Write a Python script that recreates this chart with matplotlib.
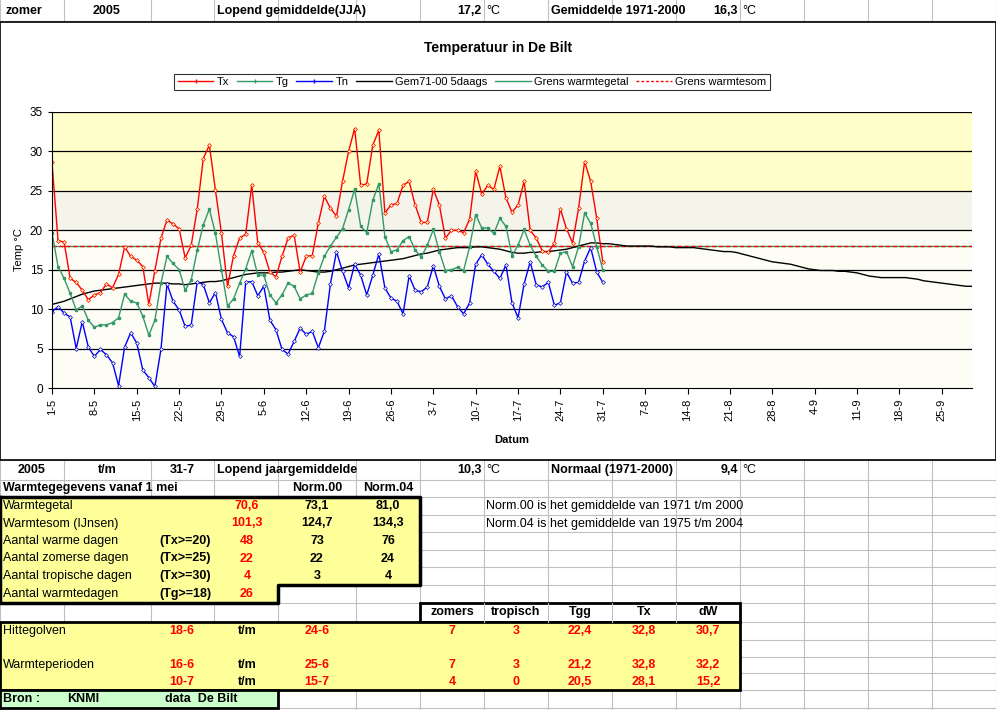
import matplotlib
matplotlib.use("Agg")
import matplotlib.pyplot as plt
from matplotlib.patches import Rectangle
from matplotlib.lines import Line2D
import numpy as np

plt.rcParams['font.family'] = ['Liberation Sans', 'DejaVu Sans']

tx = [28.6,18.7,18.5,13.9,13.4,12.4,11.2,11.8,12.1,13.2,12.7,14.4,17.9,16.7,16.2,15.4,10.6,14.9,19.0,21.3,20.8,20.2,16.5,18.1,22.7,29.1,30.8,25.1,19.6,12.9,16.8,19.0,
      19.5,25.7,18.4,17.2,14.7,14.1,16.7,19.0,19.4,14.7,16.7,16.8,20.9,24.3,22.8,21.8,26.2,30.0,32.9,25.7,25.9,30.8,32.7,22.2,23.2,23.4,25.7,26.2,23.2,21.0,21.0,
      25.2,23.2,19.0,20.0,20.0,19.7,21.4,27.5,24.6,25.7,25.2,28.1,24.1,22.3,23.2,26.2,20.0,19.0,17.4,17.2,18.4,22.7,20.2,18.4,22.8,28.7,26.2,21.5,16.0]
tg = [19.7,15.4,13.9,12.0,9.9,10.4,8.6,7.7,8.0,8.0,8.3,8.9,11.9,11.0,10.8,9.1,6.7,8.6,13.3,16.7,15.8,15.0,12.4,13.7,17.5,20.7,22.7,19.6,15.0,10.4,11.3,13.3,
      15.1,17.4,14.3,14.3,11.8,10.8,11.8,13.3,12.9,11.3,11.8,12.0,14.6,16.7,18.0,19.1,20.2,22.6,25.2,20.5,19.7,23.8,25.9,19.2,17.3,17.5,18.7,19.2,17.5,16.6,18.1,
      20.1,17.3,14.9,15.0,15.3,14.9,17.9,22.0,20.3,20.3,19.6,21.5,20.5,16.8,18.1,20.1,18.1,16.7,15.6,14.8,14.8,17.1,17.3,15.4,17.9,22.2,20.9,17.9,15.0]
tn = [9.7,10.3,9.5,9.0,5.0,8.4,5.2,4.0,4.9,4.2,3.2,0.3,5.2,7.0,5.7,2.3,1.3,0.2,4.9,13.2,11.0,9.9,7.8,8.0,13.5,13.1,10.8,12.1,8.7,7.0,6.5,4.0,
      13.4,13.5,11.7,12.9,8.6,7.4,4.9,4.3,5.9,7.6,6.8,7.2,5.1,7.2,13.2,17.3,14.8,12.7,15.7,14.3,11.8,14.3,17.0,12.7,11.4,11.0,9.4,14.2,12.4,12.2,12.8,
      15.5,12.9,11.3,11.7,10.3,9.4,10.8,15.7,16.9,15.7,14.8,13.9,15.6,10.8,8.9,13.2,16.0,13.1,12.8,13.4,10.5,10.8,14.7,13.3,13.4,16.1,17.8,14.7,13.4]
gem = [10.6,10.8,11.0,11.3,11.6,11.9,12.1,12.3,12.4,12.5,
       12.6,12.7,12.8,12.9,13.0,13.1,13.2,13.3,13.3,13.3,
       13.2,13.2,13.1,13.2,13.3,13.4,13.5,13.5,13.6,13.8,
       14.0,14.2,14.4,14.5,14.6,14.6,14.6,14.7,14.7,14.8,
       14.9,15.0,14.9,14.8,14.7,14.7,14.8,15.0,15.2,15.4,
       15.6,15.7,15.8,15.9,16.0,16.1,16.2,16.3,16.4,16.6,
       16.8,17.0,17.1,17.3,17.5,17.6,17.7,17.8,17.8,17.8,
       17.9,17.9,17.8,17.7,17.6,17.4,17.2,17.1,17.1,17.2,
       17.2,17.3,17.3,17.4,17.5,17.6,17.8,18.0,18.2,18.4,
       18.4,18.3,18.3,18.2,18.1,18.0,18.0,18.0,18.0,18.0,
       17.9,17.9,17.9,17.8,17.8,17.8,17.8,17.7,17.6,17.5,
       17.4,17.3,17.3,17.2,17.0,16.8,16.6,16.4,16.2,16.0,
       15.9,15.8,15.7,15.5,15.3,15.1,15.0,14.9,14.9,14.9,
       14.8,14.8,14.7,14.6,14.4,14.2,14.1,14.0,14.0,14.0,
       14.0,14.0,13.9,13.8,13.6,13.5,13.4,13.3,13.2,13.1,
       13.0,12.9,12.9]
grens = 18
xtick_labels = ['1-5','8-5','15-5','22-5','29-5','5-6','12-6','19-6','26-6','3-7','10-7','17-7',
                '24-7','31-7','7-8','14-8','21-8','28-8','4-9','11-9','18-9','25-9']

W, H = 996, 710
fig = plt.figure(figsize=(W/100, H/100), dpi=100)
bg = fig.add_axes([0, 0, 1, 1])
bg.set_xlim(0, W); bg.set_ylim(H, 0); bg.axis('off')

cols = [0, 64, 151, 214, 278, 356, 420, 484, 548, 612, 676, 740, 804, 868, 932, 996]
rows = [460, 480, 497, 515, 532, 550, 567, 585, 603, 622, 640, 657, 673, 690, 708]
for c in cols:
    bg.plot([c, c], [460, 710], color='#c0c0c0', lw=0.8)
    bg.plot([c, c], [0, 21], color='#c0c0c0', lw=0.8)
for r in rows:
    bg.plot([0, W], [r, r], color='#c0c0c0', lw=0.8)
bg.plot([0, W], [21, 21], color='#c0c0c0', lw=0.8)

def box(x0, y0, x1, y1, fc, lw=2.5):
    bg.add_patch(Rectangle((x0, y0), x1-x0, y1-y0, fc=fc, ec='black', lw=lw, zorder=3))

bg.add_patch(Rectangle((0, 22), W, 438, fc='white', ec='black', lw=1.2, zorder=2))
yel = '#ffff99'
bg.add_patch(Rectangle((0, 497), 420, 88, fc=yel, ec='none', zorder=3))
bg.add_patch(Rectangle((0, 585), 278, 18, fc=yel, ec='none', zorder=3))
bg.plot([0, 420, 420, 278, 278, 0, 0], [497, 497, 585, 585, 603, 603, 497], color='black', lw=2.5, zorder=4)
box(420, 603, 740, 622, 'white', 2)
for c in [484, 548, 612, 676]:
    bg.plot([c, c], [603, 622], color='#c0c0c0', lw=0.8, zorder=4)
box(0, 622, 740, 690, yel, 2)
box(0, 690, 278, 708, '#ccffcc', 2)

fs = 9
def t(x, y, s, ha='left', color='black', bold=False, z=5):
    bg.text(x, y, s, ha=ha, va='center', fontsize=fs, color=color,
            fontweight='bold' if bold else 'normal', zorder=z)

t(5, 11, 'zomer', bold=True)
t(107, 11, '2005', ha='center', bold=True)
t(217, 11, 'Lopend gemiddelde(JJA)', bold=True)
t(482, 11, '17,2', ha='right', bold=True); t(486, 11, '°C')
t(551, 11, 'Gemiddelde 1971-2000', bold=True)
t(738, 11, '16,3', ha='right', bold=True); t(742, 11, '°C')

t(32, 470, '2005', ha='center', bold=True)
t(107, 470, 't/m', ha='center', bold=True)
t(182, 470, '31-7', ha='center', bold=True)
t(217, 470, 'Lopend jaargemiddelde', bold=True)
t(482, 470, '10,3', ha='right', bold=True); t(486, 470, '°C')
t(551, 470, 'Normaal (1971-2000)', bold=True)
t(738, 470, '9,4', ha='right', bold=True); t(742, 470, '°C')
t(3, 488, 'Warmtegegevens vanaf 1 mei', bold=True)
t(317, 488, 'Norm.00', ha='center', bold=True)
t(388, 488, 'Norm.04', ha='center', bold=True)

labels1 = ['Warmtegetal', 'Warmtesom (IJnsen)', 'Aantal warme dagen', 'Aantal zomerse dagen',
           'Aantal tropische dagen', 'Aantal warmtedagen']
crit1 = ['', '', '(Tx>=20)', '(Tx>=25)', '(Tx>=30)', '(Tg>=18)']
val1 = ['70,6', '101,3', '48', '22', '4', '26']
n00 = ['73,1', '124,7', '73', '22', '3', '']
n04 = ['81,0', '134,3', '76', '24', '4', '']
for i in range(6):
    y = (rows[2+i] + rows[3+i]) / 2
    t(3, y, labels1[i])
    t(185, y, crit1[i], ha='center', bold=True)
    t(247, y, val1[i], ha='center', color='red', bold=True)
    t(317, y, n00[i], ha='center', bold=True)
    t(388, y, n04[i], ha='center', bold=True)
t(486, 506, 'Norm.00 is het gemiddelde van 1971 t/m 2000')
t(486, 524, 'Norm.04 is het gemiddelde van 1975 t/m 2004')

hdr = ['zomers', 'tropisch', 'Tgg', 'Tx', 'dW']
for i, h in enumerate(hdr):
    t(452 + 64*i, 612, h, ha='center', bold=True)
periods = [('Hittegolven', '18-6', '24-6', ['7', '3', '22,4', '32,8', '30,7'], 631),
           ('Warmteperioden', '16-6', '25-6', ['7', '3', '21,2', '32,8', '32,2'], 665),
           ('', '10-7', '15-7', ['4', '0', '20,5', '28,1', '15,2'], 682)]
for lab, a, b, vals, y in periods:
    t(3, y, lab)
    t(182, y, a, ha='center', color='red', bold=True)
    t(247, y, 't/m', ha='center', bold=True)
    t(317, y, b, ha='center', color='red', bold=True)
    for i, v in enumerate(vals):
        t(452 + 64*i, y, v, ha='center', color='red', bold=True)
t(3, 699, 'Bron :', bold=True)
t(67, 699, 'KNMI', bold=True)
t(165, 699, 'data  De Bilt', bold=True)

ax = fig.add_axes([52/W, 1-388/H, 920/W, 276/H], zorder=5)
ax.set_xlim(0, len(gem)-1); ax.set_ylim(0, 35)
ax.axhspan(25, 35, color='#ffffcc', lw=0)
ax.axhspan(20, 25, color='#f4f4ea', lw=0)
ax.axhspan(0, 20, color='#fdfdf6', lw=0)
for v in range(5, 36, 5):
    ax.axhline(v, color='black', lw=0.9)
d = np.arange(len(tx))
ax.plot(np.arange(len(gem)), [grens]*len(gem), color='#339966', lw=1)
ax.plot(np.arange(len(gem)), [grens]*len(gem), color='red', lw=1, ls=(0, (3, 2)))
ax.plot(np.arange(len(gem)), gem, color='black', lw=1)
ax.plot(d, tn, color='blue', lw=1, marker='D', ms=2, mfc='#ffff99', mec='blue', mew=0.5)
ax.plot(d, tg, color='#339966', lw=1, marker='s', ms=1.5, mfc='#339966', mec='#339966')
ax.plot(d, tx, color='red', lw=1, marker='D', ms=2, mfc='#ffff99', mec='red', mew=0.5)
ax.set_xticks(np.arange(0, 7*len(xtick_labels), 7))
ax.set_xticklabels(xtick_labels, rotation=90, fontsize=8)
ax.set_yticks(range(0, 36, 5))
ax.tick_params(axis='y', labelsize=8.5, length=3)
ax.tick_params(axis='x', length=4)
for s in ['top', 'right']:
    ax.spines[s].set_visible(False)
ax.set_ylabel('Temp °C', fontsize=8)
ax.set_xlabel('Datum', fontsize=8, fontweight='bold', labelpad=10)

bg.text(498, 48, 'Temperatuur in De Bilt', ha='center', va='center', fontsize=10, fontweight='bold', zorder=5)
handles = [Line2D([], [], color='red', lw=1, marker='|', ms=3),
           Line2D([], [], color='#339966', lw=1, marker='|', ms=3),
           Line2D([], [], color='blue', lw=1, marker='|', ms=3),
           Line2D([], [], color='black', lw=1),
           Line2D([], [], color='#339966', lw=1),
           Line2D([], [], color='red', lw=1, ls=(0, (2, 1.5)))]
names = ['Tx', 'Tg', 'Tn', 'Gem71-00 5daags', 'Grens warmtegetal', 'Grens warmtesom']
leg = fig.legend(handles, names, loc='center', bbox_to_anchor=(472/W, 1-82/H), ncol=6,
                 fontsize=8, frameon=True, fancybox=False, edgecolor='black',
                 handlelength=3.2, columnspacing=0.7, handletextpad=0.3, borderpad=0.3)
leg.get_frame().set_linewidth(0.8)

fig.savefig('out.png', dpi=100)
